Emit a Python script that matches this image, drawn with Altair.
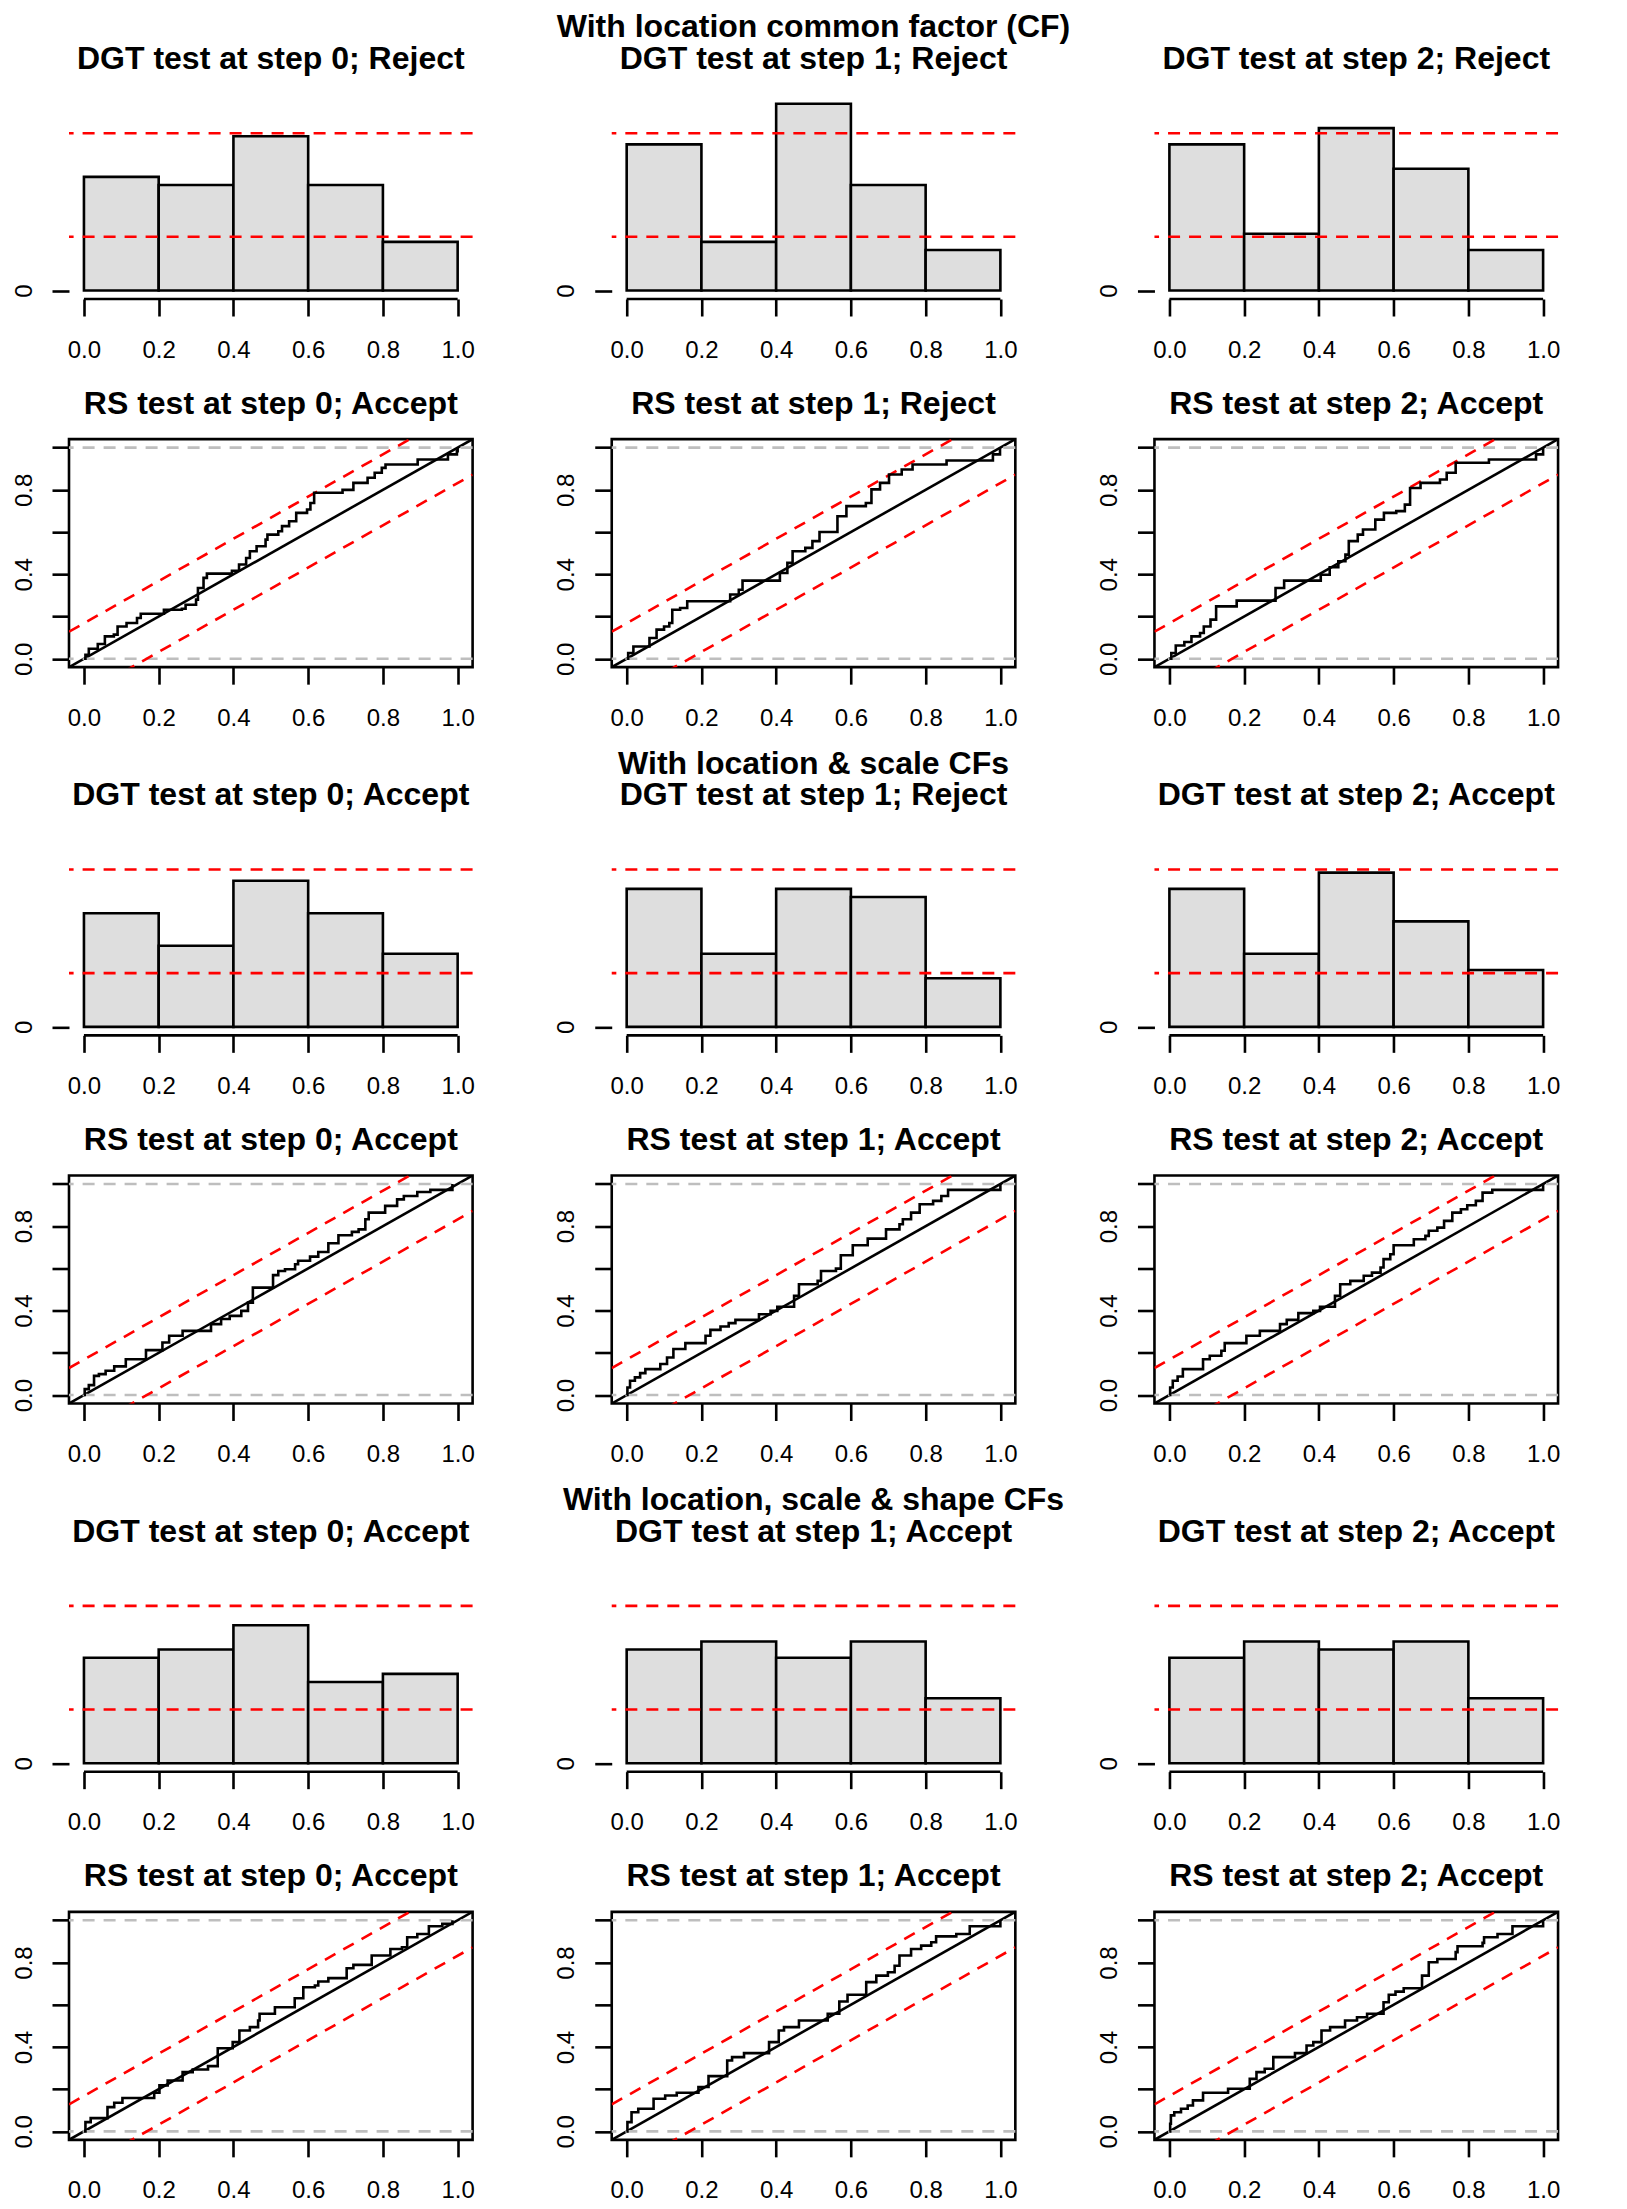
import altair as alt
import pandas as pd

FONT = "Liberation Sans"

# ---------------- data ----------------
SUPER_TITLES = ["With location common factor (CF)",
                "With location & scale CFs",
                "With location, scale & shape CFs"]
DGT_RESULT = [["Reject", "Reject", "Reject"],
              ["Accept", "Reject", "Accept"],
              ["Accept", "Accept", "Accept"]]
RS_RESULT = [["Accept", "Reject", "Accept"],
             ["Accept", "Accept", "Accept"],
             ["Accept", "Accept", "Accept"]]

BIN_START = [0.0, 0.2, 0.4, 0.6, 0.8]
BIN_END = [0.2, 0.4, 0.6, 0.8, 1.0]
COUNTS_LOC = [[14, 13, 19, 13, 6], [18, 6, 23, 13, 5], [18, 7, 20, 15, 5]]
COUNTS_LOCSCALE = [[14, 10, 18, 14, 9], [17, 9, 17, 16, 6], [17, 9, 19, 13, 7]]
COUNTS_LOCSCALESHAPE = [[13, 14, 17, 10, 11], [14, 15, 13, 15, 8], [13, 15, 14, 15, 8]]
COUNTS = [COUNTS_LOC, COUNTS_LOCSCALE, COUNTS_LOCSCALESHAPE]
DGT_BOUNDS = [6.62, 19.38]
HIST_YMAX = 26
RS_BAND = 0.168
TICKS = [0.0, 0.2, 0.4, 0.6, 0.8, 1.0]
REF_LEVELS = [0.0, 1.0]
DIAG = [-0.04, 1.04]

# ECDF step corners (x, y)
ECDF_X_A0 = [0.0, 0.004, 0.013, 0.037, 0.056, 0.08, 0.09, 0.114, 0.142, 0.152, 0.214, 0.262, 0.272, 0.30, 0.305,
             0.32, 0.329, 0.396, 0.415, 0.434, 0.444, 0.462, 0.486, 0.491, 0.52, 0.53, 0.549, 0.568, 0.597, 0.606,
             0.616, 0.692, 0.721, 0.759, 0.778, 0.797, 0.807, 0.893, 0.974, 0.998, 1.0]
ECDF_Y_A0 = [0.0, 0.019, 0.047, 0.07, 0.106, 0.114, 0.153, 0.169, 0.193, 0.213, 0.232, 0.237, 0.256, 0.28, 0.335,
             0.383, 0.403, 0.417, 0.446, 0.477, 0.509, 0.533, 0.564, 0.588, 0.604, 0.628, 0.651, 0.691, 0.707, 0.738,
             0.786, 0.80, 0.833, 0.857, 0.881, 0.904, 0.92, 0.944, 0.968, 0.983, 1.0]
ECDF_X_A1 = [0.0, 0.004, 0.018, 0.061, 0.08, 0.1, 0.114, 0.122, 0.143, 0.162, 0.277, 0.3, 0.31, 0.41, 0.43,
             0.444, 0.478, 0.497, 0.516, 0.564, 0.588, 0.64, 0.655, 0.678, 0.702, 0.736, 0.765, 0.856, 0.98, 0.999]
ECDF_Y_A1 = [0.0, 0.027, 0.058, 0.098, 0.138, 0.153, 0.169, 0.232, 0.24, 0.272, 0.304, 0.327, 0.37, 0.406, 0.454,
             0.509, 0.525, 0.557, 0.6, 0.675, 0.723, 0.738, 0.802, 0.833, 0.873, 0.896, 0.92, 0.939, 0.968, 1.0]
ECDF_X_A2 = [0.0, 0.005, 0.017, 0.04, 0.059, 0.082, 0.092, 0.11, 0.125, 0.18, 0.284, 0.307, 0.405, 0.429, 0.452,
             0.471, 0.48, 0.504, 0.518, 0.551, 0.574, 0.607, 0.63, 0.644, 0.672, 0.724, 0.742, 0.766, 0.855, 0.981, 1.0]
ECDF_Y_A2 = [0.0, 0.027, 0.063, 0.079, 0.106, 0.122, 0.153, 0.185, 0.248, 0.275, 0.335, 0.37, 0.398, 0.433, 0.462,
             0.493, 0.557, 0.588, 0.612, 0.659, 0.691, 0.699, 0.73, 0.809, 0.833, 0.849, 0.881, 0.928, 0.944, 0.968, 1.0]
ECDF_X_B0 = [0.0, 0.002, 0.013, 0.027, 0.04, 0.058, 0.081, 0.112, 0.166, 0.21, 0.228, 0.264, 0.34, 0.367, 0.39,
             0.421, 0.439, 0.452, 0.506, 0.52, 0.538, 0.565, 0.573, 0.605, 0.627, 0.654, 0.681, 0.717, 0.735, 0.753,
             0.762, 0.806, 0.838, 0.856, 0.892, 0.927, 0.986]
ECDF_Y_B0 = [0.0, 0.028, 0.047, 0.091, 0.099, 0.115, 0.136, 0.17, 0.213, 0.249, 0.281, 0.304, 0.336, 0.36, 0.375,
             0.399, 0.438, 0.509, 0.568, 0.588, 0.596, 0.62, 0.636, 0.656, 0.678, 0.719, 0.757, 0.773, 0.785, 0.833,
             0.864, 0.896, 0.927, 0.943, 0.962, 0.972, 1.0]
ECDF_X_B1 = [0.0, 0.002, 0.009, 0.022, 0.036, 0.05, 0.09, 0.108, 0.125, 0.157, 0.211, 0.224, 0.251, 0.273, 0.291,
             0.354, 0.385, 0.403, 0.448, 0.461, 0.511, 0.52, 0.56, 0.573, 0.605, 0.645, 0.694, 0.73, 0.739, 0.761,
             0.784, 0.82, 0.842, 0.86, 1.0]
ECDF_Y_B1 = [0.0, 0.036, 0.068, 0.084, 0.104, 0.123, 0.147, 0.178, 0.218, 0.246, 0.281, 0.309, 0.325, 0.341, 0.356,
             0.383, 0.399, 0.418, 0.47, 0.525, 0.541, 0.588, 0.599, 0.662, 0.71, 0.741, 0.785, 0.809, 0.833, 0.864,
             0.904, 0.92, 0.943, 0.972, 1.0]
ECDF_X_B2 = [0.0, 0.002, 0.009, 0.022, 0.036, 0.09, 0.108, 0.139, 0.148, 0.206, 0.242, 0.296, 0.314, 0.345, 0.385,
             0.403, 0.443, 0.457, 0.484, 0.52, 0.542, 0.565, 0.573, 0.591, 0.6, 0.654, 0.685, 0.694, 0.717, 0.735,
             0.757, 0.78, 0.797, 0.82, 0.838, 0.864, 1.0]
ECDF_Y_B2 = [0.0, 0.036, 0.068, 0.088, 0.123, 0.17, 0.186, 0.21, 0.246, 0.281, 0.304, 0.336, 0.356, 0.388, 0.399,
             0.418, 0.47, 0.525, 0.541, 0.565, 0.58, 0.604, 0.644, 0.667, 0.71, 0.738, 0.754, 0.778, 0.793, 0.825,
             0.864, 0.88, 0.899, 0.92, 0.959, 0.972, 1.0]
ECDF_X_C0 = [0.0, 0.004, 0.018, 0.063, 0.081, 0.103, 0.188, 0.202, 0.224, 0.264, 0.291, 0.332, 0.358, 0.398, 0.416,
             0.444, 0.466, 0.47, 0.511, 0.564, 0.587, 0.618, 0.627, 0.654, 0.703, 0.721, 0.77, 0.82, 0.851, 0.865,
             0.892, 0.923, 0.959, 0.986]
ECDF_Y_C0 = [0.0, 0.044, 0.063, 0.115, 0.136, 0.158, 0.183, 0.218, 0.241, 0.281, 0.293, 0.309, 0.394, 0.423, 0.478,
             0.494, 0.525, 0.557, 0.588, 0.631, 0.683, 0.691, 0.71, 0.726, 0.773, 0.789, 0.833, 0.864, 0.872, 0.92,
             0.935, 0.972, 0.983, 1.0]
ECDF_X_C1 = [0.0, 0.002, 0.013, 0.031, 0.072, 0.103, 0.134, 0.192, 0.219, 0.269, 0.282, 0.314, 0.381, 0.407, 0.421,
             0.461, 0.538, 0.569, 0.591, 0.641, 0.668, 0.699, 0.717, 0.73, 0.761, 0.788, 0.815, 0.828, 0.882, 0.918, 1.0]
ECDF_Y_C1 = [0.0, 0.044, 0.091, 0.107, 0.155, 0.17, 0.183, 0.21, 0.262, 0.336, 0.352, 0.371, 0.423, 0.478, 0.494,
             0.525, 0.557, 0.615, 0.647, 0.707, 0.738, 0.754, 0.785, 0.833, 0.864, 0.88, 0.896, 0.924, 0.935, 0.972, 1.0]
ECDF_X_C2 = [0.0, 0.002, 0.004, 0.013, 0.031, 0.049, 0.063, 0.09, 0.157, 0.215, 0.233, 0.255, 0.278, 0.336, 0.367,
             0.385, 0.407, 0.43, 0.47, 0.502, 0.529, 0.573, 0.587, 0.605, 0.627, 0.676, 0.694, 0.717, 0.766, 0.771,
             0.838, 0.842, 0.878, 0.918, 1.0]
ECDF_Y_C2 = [0.0, 0.036, 0.076, 0.091, 0.107, 0.123, 0.147, 0.183, 0.202, 0.249, 0.281, 0.297, 0.352, 0.371, 0.407,
             0.423, 0.478, 0.494, 0.525, 0.541, 0.557, 0.612, 0.647, 0.662, 0.678, 0.738, 0.801, 0.817, 0.849, 0.877,
             0.893, 0.92, 0.935, 0.972, 1.0]

ECDF_X = [[ECDF_X_A0, ECDF_X_A1, ECDF_X_A2],
          [ECDF_X_B0, ECDF_X_B1, ECDF_X_B2],
          [ECDF_X_C0, ECDF_X_C1, ECDF_X_C2]]
ECDF_Y = [[ECDF_Y_A0, ECDF_Y_A1, ECDF_Y_A2],
          [ECDF_Y_B0, ECDF_Y_B1, ECDF_Y_B2],
          [ECDF_Y_C0, ECDF_Y_C1, ECDF_Y_C2]]

# ---------------- style ----------------
W, H = 403.6, 228
LW = 2.6
DASH = [12, 9]
HIST_FILL = "#DEDEDE"
TITLE_SIZE = 32
HIST_TITLE_OFFSET = -30
RS_TITLE_OFFSET = -6.5

YLAB_RS = ("indexof(['0.0','0.4','0.8'], format(datum.value, '.1f')) >= 0 "
           "? format(datum.value, '.1f') : ''")


def x_axis():
    return alt.Axis(values=TICKS, format=".1f", title=None, labelPadding=22, labelBaseline="top",
                    labelAngle=0, labelAlign="center")


def y_axis_hist():
    return alt.Axis(values=[0], format="d", title=None, labelAngle=270, labelAlign="center",
                    labelBaseline="bottom", labelPadding=16)


def y_axis_rs():
    return alt.Axis(values=TICKS, labelExpr=YLAB_RS, title=None, labelAngle=270, labelAlign="center",
                    labelBaseline="bottom", labelPadding=16)


def title(lines, offset):
    return alt.TitleParams(text=lines, font=FONT, fontSize=TITLE_SIZE, fontWeight="bold",
                           color="black", anchor="middle", frame="group", baseline="alphabetic",
                           lineHeight=31.7, offset=offset)


def xscale():
    return alt.Scale(domain=[-0.04, 1.04], nice=False, zero=False)


def hist_panel(g, c):
    df = pd.DataFrame({"x0": BIN_START, "x1": BIN_END, "n": COUNTS[g][c]})
    ys = alt.Scale(domain=[-0.04 * HIST_YMAX, 1.04 * HIST_YMAX], nice=False, zero=False)
    xa, ya = x_axis(), y_axis_hist()
    bars = alt.Chart(df).mark_rect(fill=HIST_FILL, stroke="black", strokeWidth=LW).encode(
        x=alt.X("x0:Q", scale=xscale(), axis=xa),
        x2="x1:Q",
        y=alt.Y("n:Q", scale=ys, axis=ya),
        y2=alt.datum(0),
    )
    bounds = alt.Chart(pd.DataFrame({"n": DGT_BOUNDS})).mark_rule(
        color="red", strokeDash=DASH, strokeWidth=LW).encode(y=alt.Y("n:Q", axis=ya))
    axisline = alt.Chart(pd.DataFrame({"x0": [TICKS[0]], "x1": [TICKS[-1]]})).mark_rule(
        color="black", strokeWidth=LW).encode(
        x=alt.X("x0:Q", axis=xa), x2="x1:Q",
        y=alt.YDatum(-0.04 * HIST_YMAX, axis=ya))
    first = SUPER_TITLES[g] if c == 1 else ""
    lines = [first, f"DGT test at step {c}; {DGT_RESULT[g][c]}"]
    return alt.layer(bars, bounds, axisline).properties(
        width=W, height=H, title=title(lines, HIST_TITLE_OFFSET))


def rs_panel(g, c):
    ys = alt.Scale(domain=[-0.04, 1.04], nice=False, zero=False)
    xa, ya = x_axis(), y_axis_rs()
    diag = alt.Chart(pd.DataFrame({"x": DIAG, "y": DIAG})).mark_line(
        color="black", strokeWidth=LW, clip=True).encode(
        x=alt.X("x:Q", scale=xscale(), axis=xa),
        y=alt.Y("y:Q", scale=ys, axis=ya),
    )
    ref = alt.Chart(pd.DataFrame({"y": REF_LEVELS})).mark_rule(
        color="#BEBEBE", strokeDash=DASH, strokeWidth=LW).encode(y=alt.Y("y:Q", axis=ya))
    band_df = pd.DataFrame({
        "x": DIAG + DIAG,
        "y": [v + RS_BAND for v in DIAG] + [v - RS_BAND for v in DIAG],
        "side": ["upper", "upper", "lower", "lower"],
    })
    band = alt.Chart(band_df).mark_line(color="red", strokeDash=DASH, strokeWidth=LW, clip=True).encode(
        x=alt.X("x:Q", axis=xa), y=alt.Y("y:Q", axis=ya), detail="side:N")
    edf = pd.DataFrame({"x": ECDF_X[g][c], "y": ECDF_Y[g][c]})
    edf["i"] = range(len(edf))
    ecdf = alt.Chart(edf).mark_line(color="black", strokeWidth=LW, interpolate="step-after",
                                    clip=True).encode(
        x=alt.X("x:Q", axis=xa), y=alt.Y("y:Q", axis=ya), order="i:Q")
    return alt.layer(diag, ref, band, ecdf).properties(
        width=W, height=H,
        title=title(f"RS test at step {c}; {RS_RESULT[g][c]}", RS_TITLE_OFFSET),
        view=alt.ViewBackground(stroke="black", strokeWidth=LW),
    )


panels = []
for g in range(3):
    panels += [hist_panel(g, c) for c in range(3)]
    panels += [rs_panel(g, c) for c in range(3)]

chart = alt.concat(*panels, columns=3, spacing={"row": 140.17, "column": 138.73},
                   bounds="flush").properties(
    padding={"left": 2, "top": 2, "right": 5, "bottom": 5},
    background="white",
).configure_view(
    stroke="transparent"
).configure_axis(
    grid=False, domain=False, ticks=True, labels=True, tickSize=17, tickWidth=LW, tickColor="black",
    labelFont=FONT, labelFontSize=24, labelColor="black", labelFlush=False, labelOverlap=False,
)

chart.save("out.html", embed_options={"renderer": "svg", "actions": False})
